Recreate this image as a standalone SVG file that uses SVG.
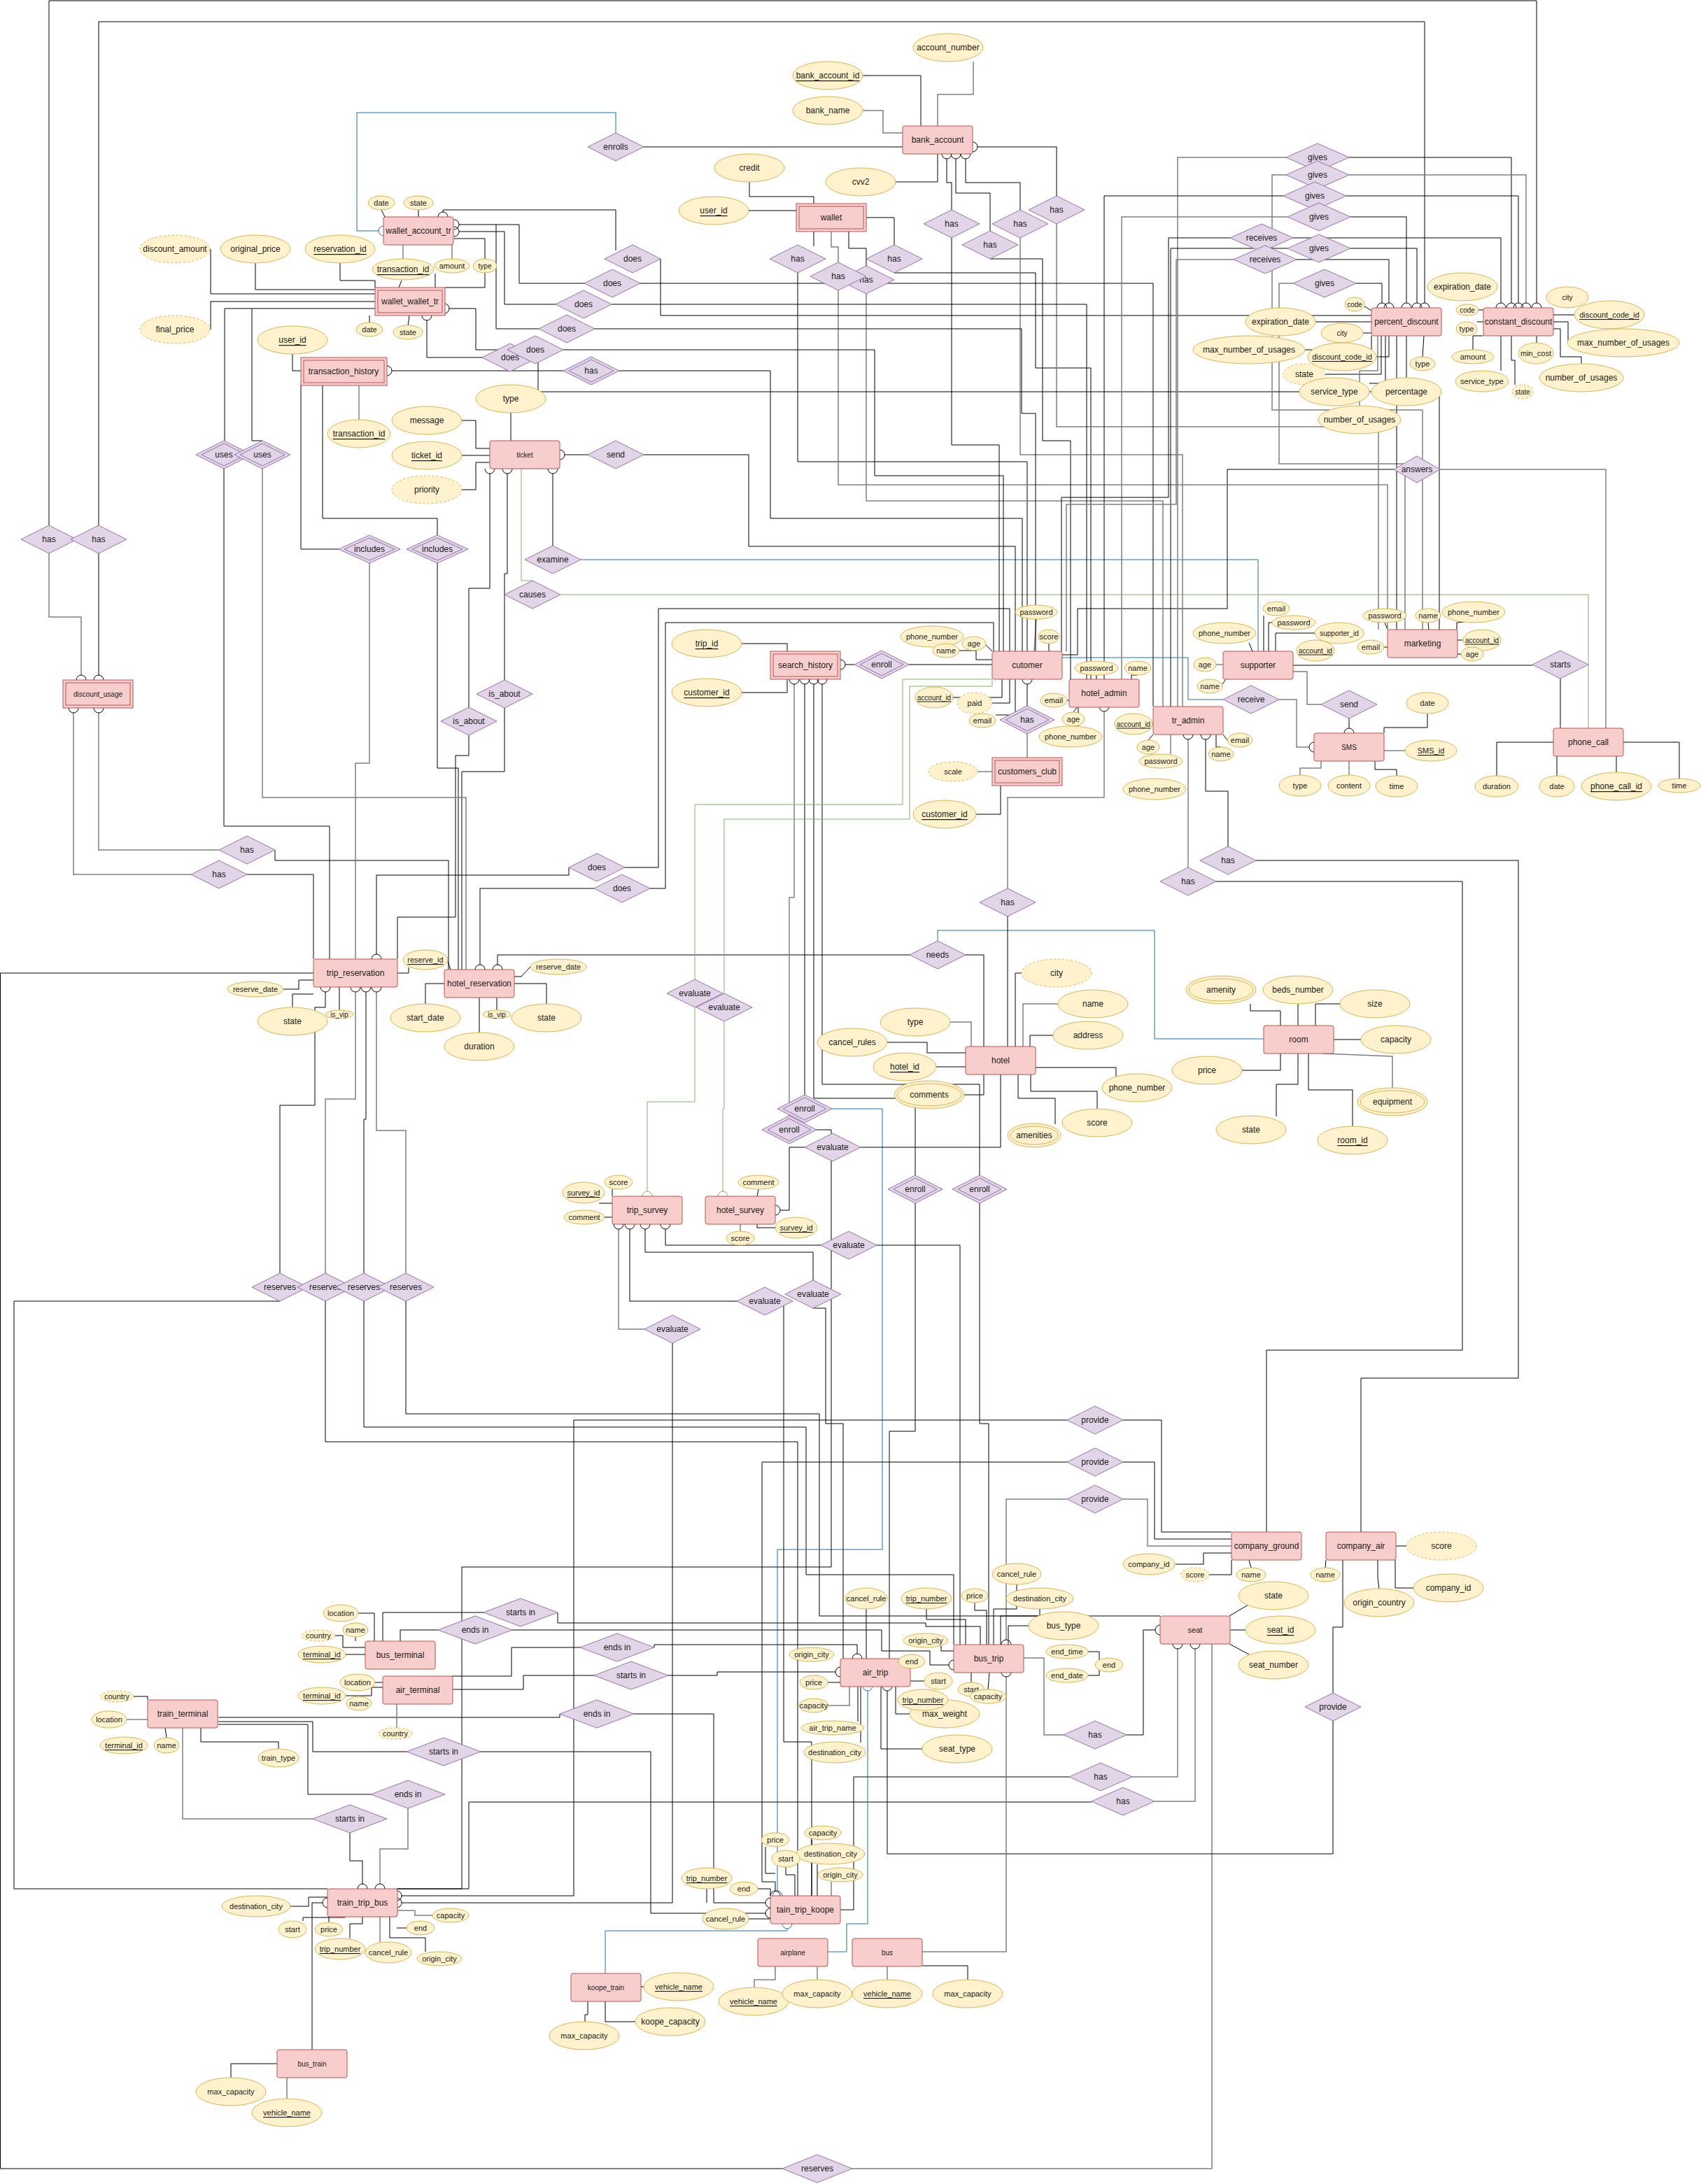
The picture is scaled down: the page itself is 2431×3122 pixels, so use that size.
<svg xmlns="http://www.w3.org/2000/svg" width="2431" height="3122" viewBox="0 0 2431 3122">
<style>
.e{fill:#f8cecc;stroke:#b85450;stroke-width:1}
.r{fill:#e1d5e7;stroke:#9673a6;stroke-width:1}
.a{fill:#fff2cc;stroke:#d6b656;stroke-width:1}
.ad{fill:#fff2cc;stroke:#d6b656;stroke-width:1;stroke-dasharray:3 3}
.ai{fill:none;stroke:#d6b656;stroke-width:1}
text{font-family:"Liberation Sans",Arial,sans-serif;font-size:12px;fill:#1a1a1a;text-anchor:middle;dominant-baseline:central}
.s{font-size:11px}
.t{font-size:10px}
.u{text-decoration:underline}
.du{text-decoration:underline dotted}
.c{fill:none;stroke:#000;stroke-width:1}
.g{fill:none;stroke:#808080;stroke-width:1.5}
.b{fill:none;stroke:#1f6fb0;stroke-width:1}
.gr{fill:none;stroke:#82b366;stroke-width:1}
.m{marker-end:url(#hc)}
.mb{marker-end:url(#hcb)}
.mg{marker-end:url(#hcg)}
</style>
<defs>
<marker id="hc" viewBox="-1 -9 10 18" markerWidth="10" markerHeight="18" refX="0" refY="0" orient="auto" markerUnits="userSpaceOnUse" overflow="visible"><path d="M7,-7 A7,7 0 0 0 7,7" fill="none" stroke="#000" stroke-width="1"/></marker>
<marker id="hcb" viewBox="-1 -9 10 18" markerWidth="10" markerHeight="18" refX="0" refY="0" orient="auto" markerUnits="userSpaceOnUse" overflow="visible"><path d="M7,-7 A7,7 0 0 0 7,7" fill="none" stroke="#1f6fb0" stroke-width="1"/></marker>
<marker id="hcg" viewBox="-1 -9 10 18" markerWidth="10" markerHeight="18" refX="0" refY="0" orient="auto" markerUnits="userSpaceOnUse" overflow="visible"><path d="M7,-7 A7,7 0 0 0 7,7" fill="none" stroke="#82b366" stroke-width="1"/></marker>
</defs>
<rect x="0" y="0" width="2431" height="3122" fill="#fff"/>
<g id="connectors">
<polyline class="c m" points="70,751 70,1 2196,1 2196,433"/>
<polyline class="c m" points="141,751 141,31 2036,31 2036,433"/>
<polyline class="g m" points="70,791 70,882 116,882 116,965"/>
<polyline class="c m" points="141,791 141,965"/>
<polyline class="g m" points="273,1250 105,1250 105,1019"/>
<polyline class="g m" points="313,1215 141,1215 141,1019"/>
<polyline class="c" points="393,1215 393,1230 641,1230 641,1386"/>
<polyline class="c" points="353,1250 448,1250 448,1371"/>
<polyline class="c" points="448,1391 0.5,1391 0.5,3100 1118,3100"/>
<polyline class="g" points="1218,3100 1732,3100 1732,2350"/>
<polyline class="c m" points="400,1820 400,1580 450,1580 450,1440 465,1440 465,1418"/>
<polyline class="c" points="400,1860 20,1860 20,2700 468,2700"/>
<polyline class="g m" points="465,1820 465,1571 508,1571 508,1418"/>
<polyline class="c" points="465,1860 465,2061 1140,2061 1140,2710"/>
<polyline class="c m" points="520,1820 520,1600 523,1600 523,1418"/>
<polyline class="c" points="520,1860 520,2040 1152,2040 1152,2251 1363,2251 1363,2351"/>
<polyline class="g m" points="580,1820 580,1616 538,1616 538,1418"/>
<polyline class="c" points="580,1860 580,2021 1171,2021 1171,2310 1658,2310"/>
<polyline class="c" points="545,300 550,310"/>
<polyline class="c" points="598,300 598,310"/>
<polyline class="b mb" points="880,190 880,161 510,161 510,330 541,330"/>
<polyline class="c" points="920,210 1290,210"/>
<polyline class="c m" points="880,358 880,300 633,300 633,303"/>
<polyline class="c m" points="835,405 742,405 742,321 656,321"/>
<polyline class="c" points="770,470 709,470 709,321"/>
<polyline class="c m" points="794,435 721,435 721,331 656,331"/>
<polyline class="c" points="649,341 693,341 693,370"/>
<polyline class="c" points="693,390 693,411 636,411"/>
<polyline class="g" points="646,350 646,370"/>
<polyline class="c" points="622,391 622,411"/>
<polyline class="g" points="576,350 576,370"/>
<polyline class="c" points="574,401 570,411"/>
<polyline class="c" points="301,356 301,420 536,420"/>
<polyline class="c" points="365,376 365,414 536,414"/>
<polyline class="c" points="486,376 486,401 536,401 536,411"/>
<polyline class="c" points="301,471 301,431 536,431"/>
<polyline class="c" points="536,441 321,441 321,630"/>
<polyline class="c" points="360,441 360,630 375,630"/>
<polyline class="c" points="528,461 528,451"/>
<polyline class="c" points="583,466 585,451"/>
<polyline class="c m" points="689,511 610,511 610,458"/>
<polyline class="c m" points="725,500 680,500 680,441 642,441"/>
<polyline class="c" points="418,506 418,530 430,530"/>
<polyline class="c m" points="805,530 560,530"/>
<polyline class="g" points="513,551 513,600"/>
<polyline class="c" points="461,551 461,741 625,741 625,765"/>
<polyline class="c" points="430,551 430,785 484,785"/>
<polyline class="c" points="730,590 730,630"/>
<polyline class="c" points="660,601 680,601 680,641 700,641"/>
<polyline class="c" points="660,651 700,651"/>
<polyline class="c" points="660,700 680,700 680,661 700,661"/>
<polyline class="c m" points="840,650 807,650"/>
<polyline class="c m" points="790,780 790,677"/>
<polyline class="gr" points="761,830 745,830 745,670"/>
<polyline class="c m" points="721,972 721,820 725,820 725,677"/>
<polyline class="c m" points="670,1011 670,841 700,841 700,677"/>
<polyline class="c" points="670,1051 670,1080 651,1080 651,1311 568,1311 568,1371"/>
<polyline class="c" points="721,1012 721,1103 660,1103 660,1386"/>
<polyline class="g" points="528,805 528,1091 508,1091 508,1371"/>
<polyline class="c" points="625,805 625,1098 655,1098 655,1386"/>
<polyline class="c" points="320,670 320,1181 471,1181 471,1371"/>
<polyline class="g" points="375,670 375,1140 666,1140 666,1386"/>
<polyline class="b" points="830,800 1798,800 1798,931"/>
<polyline class="gr" points="801,850 2270,850 2270,1041"/>
<polyline class="c m" points="813,1240 813,1251 538,1251 538,1364"/>
<polyline class="c" points="893,1240 941,1240 941,870 1443,870 1443,931"/>
<polyline class="c m" points="849,1270 686,1270 686,1379"/>
<polyline class="c" points="929,1270 951,1270 951,890 1420,890 1420,931"/>
<polyline class="c m" points="1300,1365 711,1365 711,1379"/>
<polyline class="c" points="1380,1365 1406,1365 1406,1496"/>
<polyline class="b" points="1340,1345 1340,1330 1650,1330 1650,1485 1806,1485"/>
<polyline class="c" points="584,1383 584,1391 567,1391"/>
<polyline class="c" points="640,1375 644,1386"/>
<polyline class="c" points="758,1382 745,1396 735,1396"/>
<polyline class="c" points="405,1414 427,1414 427,1401 448,1401"/>
<polyline class="c" points="418,1440 418,1421 448,1421"/>
<polyline class="c" points="485,1444 485,1411"/>
<polyline class="c" points="608,1435 608,1406 635,1406"/>
<polyline class="c" points="685,1476 685,1426"/>
<polyline class="c" points="710,1444 710,1426"/>
<polyline class="c" points="781,1435 781,1406 735,1406"/>
<polyline class="c" points="1060,920 1125,920 1125,931"/>
<polyline class="c" points="1060,990 1125,990 1125,971"/>
<polyline class="c m" points="1221,950 1208,950"/>
<polyline class="c" points="1299,950 1418,950"/>
<polyline class="g m" points="1128,1595 1128,1283 1135,1283 1135,978"/>
<polyline class="c m" points="1150,1565 1150,978"/>
<polyline class="c m" points="1308,1680 1308,1570 1163,1570 1163,978"/>
<polyline class="c m" points="1400,1680 1400,1550 1175,1550 1175,978"/>
<polyline class="c" points="1377,1565 1406,1565 1406,1536"/>
<polyline class="c" points="1308,1720 1308,2046 1271,2046 1271,2371"/>
<polyline class="c" points="1400,1720 1400,2035 1413,2035 1413,2351"/>
<polyline class="b mb" points="1189,1585 1261,1585 1261,2215 1111,2215 1111,2703"/>
<polyline class="c" points="1167,1615 1188,1615 1188,2240 660,2240 660,2700 567,2700"/>
<polyline class="c m" points="1150,1640 1128,1640 1128,1730 1115,1730"/>
<polyline class="c" points="1230,1640 1430,1640 1430,1536"/>
<polyline class="gr mg" points="993,1440 993,1575 925,1575 925,1703"/>
<polyline class="gr" points="993,1400 993,1150 1290,1150 1290,971 1418,971"/>
<polyline class="gr mg" points="1035,1460 1035,1585 1033,1585 1033,1703"/>
<polyline class="gr" points="1035,1420 1035,1171 1300,1171 1300,981 1418,981 1418,971"/>
<polyline class="c m" points="1173,1780 951,1780 951,1757"/>
<polyline class="c" points="1253,1780 1372,1780 1372,2351"/>
<polyline class="c m" points="1162,1830 1162,1790 922,1790 922,1757"/>
<polyline class="c" points="1162,1870 1180,1870 1180,2035 1205,2035 1205,2371"/>
<polyline class="c m" points="1053,1860 900,1860 900,1757"/>
<polyline class="c" points="1120,1867 1120,2490 1160,2490 1160,2710"/>
<polyline class="g m" points="921,1900 884,1900 884,1757"/>
<polyline class="c m" points="961,1920 961,2720 574,2720"/>
<polyline class="c" points="856,1720 875,1720"/>
<polyline class="c" points="864,1740 875,1740"/>
<polyline class="c" points="875,1700 875,1710"/>
<polyline class="c" points="1084,1700 1082,1710"/>
<polyline class="c" points="1109,1755 1082,1755 1082,1750"/>
<polyline class="g" points="1058,1760 1058,1750"/>
<polyline class="g" points="1481,885 1478,931"/>
<polyline class="c" points="1499,920 1499,931"/>
<polyline class="c" points="1371,930 1395,930 1395,943 1418,943"/>
<polyline class="c" points="1409,922 1418,931"/>
<polyline class="c" points="1362,997 1432,997 1432,971"/>
<polyline class="c" points="1418,1005 1443,1005 1443,971"/>
<polyline class="c" points="1423,1022 1451,1022 1451,971"/>
<polyline class="c m" points="1468,1011 1468,978"/>
<polyline class="g" points="1468,1047 1468,1083"/>
<polyline class="g" points="1397,1103 1418,1103"/>
<polyline class="c" points="1395,1164 1430,1164 1430,1123"/>
<polyline class="b" points="1518,940 1698,940 1698,1000 1748,1000"/>
<polyline class="c" points="1518,936 1540,936 1540,870 1754,870 1754,671 1992,671"/>
<polyline class="g" points="2058,671 2295,671 2295,1041"/>
<polyline class="g" points="1848,405 1828,405 1828,663 2008,663 2008,900"/>
<polyline class="g m" points="1828,1000 1853,1000 1853,1068 1871,1068"/>
<polyline class="c" points="1806,880 1806,931"/>
<polyline class="c" points="1818,890 1813,890 1813,931"/>
<polyline class="c" points="1879,905 1823,905 1823,931"/>
<polyline class="c" points="1785,919 1790,931"/>
<polyline class="g" points="1738,950 1748,950"/>
<polyline class="c" points="1747,978 1752,971"/>
<polyline class="c" points="1848,951 2190,951"/>
<polyline class="c" points="2230,970 2230,1041"/>
<polyline class="g" points="1848,960 1868,960 1868,1007 1888,1007"/>
<polyline class="c m" points="1928,1027 1928,1041"/>
<polyline class="c" points="2040,1020 2040,1040 1978,1040 1978,1048"/>
<polyline class="g" points="2008,1073 1978,1073"/>
<polyline class="g" points="1858,1108 1858,1098 1888,1098 1888,1088"/>
<polyline class="g" points="1928,1108 1928,1088"/>
<polyline class="c" points="1996,1109 1996,1100 1965,1100 1965,1088"/>
<polyline class="c" points="2139,1109 2139,1061 2220,1061"/>
<polyline class="c" points="2225,1109 2225,1080"/>
<polyline class="c" points="2310,1104 2310,1080"/>
<polyline class="c" points="2400,1113 2400,1061 2320,1061"/>
<polyline class="c" points="1979,890 1983,900"/>
<polyline class="c" points="2041,890 2042,900"/>
<polyline class="c" points="2093,889 2082,890 2082,900"/>
<polyline class="c" points="2091,915 2083,915"/>
<polyline class="c" points="2088,935 2083,935"/>
<polyline class="c" points="1978,925 1983,925"/>
<polyline class="c" points="1645,1035 1648,1035"/>
<polyline class="c" points="1641,1058 1648,1050"/>
<polyline class="g" points="1673,1078 1673,1050"/>
<polyline class="c" points="1754,1058 1748,1050"/>
<polyline class="c" points="1745,1068 1738,1068 1738,1050"/>
<polyline class="g m" points="1698,1240 1698,1057"/>
<polyline class="c m" points="1755,1210 1755,1131 1723,1131 1723,1057"/>
<polyline class="c" points="1795,1230 2170,1230 2170,1970 1945,1970 1945,2190"/>
<polyline class="c" points="1738,1260 2090,1260 2090,1930 1810,1930 1810,2190"/>
<polyline class="c" points="1567,965 1567,971"/>
<polyline class="c" points="1626,965 1617,965 1617,971"/>
<polyline class="c" points="1525,1001 1528,1001"/>
<polyline class="c" points="1534,1018 1540,1010"/>
<polyline class="c" points="1541,1038 1541,1010"/>
<polyline class="g m" points="1440,1270 1440,1140 1578,1140 1578,1017"/>
<polyline class="c" points="1440,1310 1440,1496"/>
<polyline class="c" points="1460,1391 1451,1391 1451,1496"/>
<polyline class="g" points="1512,1435 1462,1435 1462,1496"/>
<polyline class="c" points="1505,1480 1472,1480 1472,1496"/>
<polyline class="g" points="1357,1461 1388,1461 1388,1496"/>
<polyline class="c" points="1268,1490 1325,1490 1325,1505 1380,1505"/>
<polyline class="c" points="1338,1525 1380,1525"/>
<polyline class="c" points="1575,1555 1595,1555 1595,1526 1480,1526"/>
<polyline class="c" points="1568,1585 1568,1560 1473,1560 1473,1536"/>
<polyline class="c" points="1508,1607 1508,1570 1455,1570 1455,1536"/>
<polyline class="c" points="1787,1435 1787,1445 1830,1445 1830,1466"/>
<polyline class="c" points="1855,1435 1855,1466"/>
<polyline class="c" points="1915,1435 1880,1435 1880,1466"/>
<polyline class="c" points="1945,1486 1906,1486"/>
<polyline class="c" points="1775,1530 1830,1530 1830,1506"/>
<polyline class="c" points="1855,1506 1855,1550 1824,1550 1824,1596"/>
<polyline class="c" points="1870,1506 1870,1558 1933,1558 1933,1610"/>
<polyline class="g" points="1890,1506 1990,1510 1990,1555"/>
<polyline class="c" points="1071,260 1071,281 1163,281 1163,291"/>
<polyline class="c" points="1070,301 1138,301"/>
<polyline class="c" points="1163,331 1163,352"/>
<polyline class="g" points="1188,331 1188,353 1198,353 1198,375"/>
<polyline class="c" points="1213,331 1213,355 1238,355 1238,380"/>
<polyline class="c" points="1238,311 1278,311 1278,350"/>
<polyline class="c" points="1280,260 1340,260 1340,220"/>
<polyline class="c" points="1233,108 1316,108 1316,180"/>
<polyline class="g" points="1391,88 1391,135 1340,135 1340,180"/>
<polyline class="g" points="1233,158 1262,158 1262,190 1290,190"/>
<polyline class="c m" points="1360,300 1360,261 1353,261 1353,227"/>
<polyline class="c m" points="1415,330 1415,276 1366,276 1366,227"/>
<polyline class="c m" points="1458,300 1458,261 1380,261 1380,227"/>
<polyline class="c m" points="1510,280 1510,210 1397,210"/>
<polyline class="c" points="1140,390 1140,660 1468,660 1468,931"/>
<polyline class="g" points="1198,415 1198,693 1983,693 1983,900"/>
<polyline class="g" points="1238,420 1238,716 1662,716 1662,1010"/>
<polyline class="c" points="1278,390 1480,390 1480,526 1559,526 1559,971"/>
<polyline class="c" points="1360,340 1360,636 1428,636 1428,931"/>
<polyline class="c" points="1415,370 1490,370 1490,630 1530,630 1530,971"/>
<polyline class="g" points="1458,340 1458,650 1690,650 1690,1010"/>
<polyline class="g" points="1510,320 1510,610 1970,610 1970,900"/>
<polyline class="c" points="944,370 944,451 1996,451 1996,900"/>
<polyline class="c" points="915,405 1648,405 1648,1010"/>
<polyline class="c" points="874,435 1553,435 1553,971"/>
<polyline class="c" points="850,470 1460,470 1460,591 1480,591 1480,931"/>
<polyline class="c" points="805,500 1250,500 1250,680 1434,680 1434,931"/>
<polyline class="c" points="769,511 769,560 2057,560 2057,900"/>
<polyline class="c" points="885,530 1101,530 1101,741 1461,741 1461,931"/>
<polyline class="c" points="920,650 1070,650 1070,781 1451,781 1451,931"/>
<polyline class="g" points="1838,225 1683,225 1683,1010"/>
<polyline class="c m" points="1928,225 2160,225 2160,433"/>
<polyline class="g" points="1838,250 1818,250 1818,586 2033,586 2033,900"/>
<polyline class="g m" points="1928,250 2181,250 2181,433"/>
<polyline class="c" points="1834,280 1578,280 1578,971"/>
<polyline class="c m" points="1924,280 2170,280 2170,433"/>
<polyline class="g" points="1840,310 1603,310 1603,971"/>
<polyline class="c m" points="1930,310 2010,310 2010,433"/>
<polyline class="c" points="1758,340 1670,340 1670,711 1517,711 1517,931"/>
<polyline class="c m" points="1848,340 2145,340 2145,433"/>
<polyline class="c" points="1840,355 1673,355 1673,1010"/>
<polyline class="c m" points="1930,355 2025,355 2025,433"/>
<polyline class="g" points="1763,371 1681,371 1681,721 1524,721 1524,931"/>
<polyline class="c m" points="1853,371 1985,371 1985,433"/>
<polyline class="c m" points="1938,405 1975,405 1975,433"/>
<polyline class="c" points="1950,438 1960,444"/>
<polyline class="c" points="1880,460 1960,460"/>
<polyline class="c" points="1948,476 1960,476"/>
<polyline class="c" points="1865,500 1960,500 1960,480"/>
<polyline class="c" points="1967,510 1985,510 1985,480"/>
<polyline class="c" points="1894,535 1974,535 1974,480"/>
<polyline class="c" points="1957,548 1980,548 1980,480"/>
<polyline class="g" points="1943,580 1943,530 1969,530 1969,480"/>
<polyline class="c" points="2010,540 2010,480"/>
<polyline class="c" points="2033,510 2035,480"/>
<polyline class="c" points="2113,443 2120,443"/>
<polyline class="c" points="2111,460 2120,460"/>
<polyline class="c" points="2105,500 2105,480 2120,480"/>
<polyline class="c" points="2145,530 2145,480"/>
<polyline class="c" points="2165,550 2165,515 2160,515 2160,480"/>
<polyline class="c" points="2196,490 2196,480"/>
<polyline class="c" points="2250,450 2220,450"/>
<polyline class="c" points="2241,490 2241,460 2220,460"/>
<polyline class="c" points="2260,520 2260,510 2230,510 2230,470 2220,470"/>
<polyline class="c" points="1605,2030 1660,2030 1660,2190 1760,2190"/>
<polyline class="c m" points="1525,2030 820,2030 820,2710 574,2710"/>
<polyline class="c m" points="1525,2090 1089,2090 1089,2690 1108,2690 1108,2703"/>
<polyline class="c" points="1605,2090 1650,2090 1650,2200 1760,2200"/>
<polyline class="g m" points="1525,2143 1438,2143 1438,2344"/>
<polyline class="g" points="1605,2143 1640,2143 1640,2210 1760,2210"/>
<polyline class="c" points="1680,2236 1720,2236 1720,2220 1760,2220"/>
<polyline class="c" points="1728,2251 1760,2251 1760,2230"/>
<polyline class="c" points="1788,2241 1785,2230"/>
<polyline class="c" points="1894,2241 1895,2230"/>
<polyline class="c" points="2010,2210 1994,2210"/>
<polyline class="c" points="2020,2270 1994,2270 1994,2230"/>
<polyline class="c" points="1971,2271 1969,2255 1969,2230"/>
<polyline class="c" points="1919,2230 1919,2326 1905,2326 1905,2420"/>
<polyline class="c m" points="1905,2460 1905,2650 1268,2650 1268,2417"/>
<polyline class="c" points="1784,2294 1757,2310"/>
<polyline class="c" points="1780,2330 1757,2330"/>
<polyline class="c" points="1785,2365 1757,2350"/>
<polyline class="c m" points="1610,2480 1634,2480 1634,2330 1651,2330"/>
<polyline class="g m" points="1618,2540 1683,2540 1683,2357"/>
<polyline class="g m" points="1650,2575 1708,2575 1708,2357"/>
<polyline class="g" points="1520,2480 1492,2480 1492,2370 1463,2370"/>
<polyline class="c" points="1528,2540 1220,2540 1220,2730 1201,2730"/>
<polyline class="c" points="1560,2576 670,2576 670,2700 567,2700"/>
<polyline class="c" points="1355,2345 1345,2345 1345,2360 1363,2360"/>
<polyline class="c" points="1470,2324 1441,2324 1441,2351"/>
<polyline class="c" points="1555,2361 1571,2361 1571,2395 1555,2395"/>
<polyline class="c" points="1571,2380 1566,2380"/>
<polyline class="c" points="1388,2405 1388,2390"/>
<polyline class="c" points="1412,2415 1414,2390"/>
<polyline class="g m" points="1318,2790 1438,2790 1438,2397"/>
<polyline class="c" points="1324,2300 1324,2315 1380,2315 1380,2351"/>
<polyline class="c" points="1393,2291 1393,2302 1410,2302 1410,2351"/>
<polyline class="c" points="1453,2265 1453,2300 1420,2300 1420,2351"/>
<polyline class="c" points="1486,2300 1486,2310 1430,2310 1430,2351"/>
<polyline class="c" points="1238,2300 1238,2371"/>
<polyline class="c m" points="935,2355 935,2351 1225,2351 1225,2364"/>
<polyline class="c" points="829,2355 731,2355 731,2396 646,2396"/>
<polyline class="c m" points="955,2395 1025,2395 1025,2390 1194,2390"/>
<polyline class="c" points="849,2395 748,2395 748,2415 646,2415"/>
<polyline class="c m" points="906,2450 1020,2450 1020,2720 1094,2720"/>
<polyline class="c" points="800,2450 800,2455 312,2455"/>
<polyline class="c" points="1183,2405 1201,2405"/>
<polyline class="g" points="1184,2438 1214,2438 1214,2410"/>
<polyline class="c" points="1226,2461 1226,2410"/>
<polyline class="c" points="1230,2491 1230,2410"/>
<polyline class="c" points="1318,2500 1259,2500 1259,2410"/>
<polyline class="c" points="1301,2450 1280,2450 1280,2410"/>
<polyline class="c" points="1321,2403 1300,2403"/>
<polyline class="c" points="508,2340 508,2346"/>
<polyline class="c" points="479,2338 490,2338 490,2355 522,2355"/>
<polyline class="c" points="494,2365 522,2365"/>
<polyline class="c" points="511,2306 535,2306 535,2346"/>
<polyline class="c" points="547,2346 547,2305 691,2305"/>
<polyline class="c" points="797,2305 797,2320 1323,2320 1323,2325 1401,2325 1401,2351"/>
<polyline class="c" points="572,2346 572,2330 626,2330"/>
<polyline class="c m" points="732,2330 1260,2330 1260,2360 1329,2360 1329,2380 1356,2380"/>
<polyline class="c" points="535,2405 547,2405"/>
<polyline class="c" points="494,2424 531,2424 531,2412 547,2412"/>
<polyline class="g" points="567,2470 567,2436"/>
<polyline class="g" points="180,2458 211,2458"/>
<polyline class="c" points="191,2425 211,2425 211,2430"/>
<polyline class="c" points="238,2484 236,2470"/>
<polyline class="c" points="398,2500 398,2490 287,2490 287,2470"/>
<polyline class="c" points="312,2461 447,2461 447,2504 581,2504"/>
<polyline class="c" points="312,2465 440,2465 440,2565 530,2565"/>
<polyline class="g" points="261,2470 261,2600 447,2600"/>
<polyline class="c m" points="687,2504 930,2504 930,2735 1094,2735"/>
<polyline class="g m" points="583,2585 583,2643 543,2643 543,2693"/>
<polyline class="c m" points="500,2620 500,2660 518,2660 518,2693"/>
<polyline class="c" points="415,2725 441,2725 441,2712 468,2712"/>
<polyline class="c" points="433,2746 433,2741 493,2741 493,2740"/>
<polyline class="c" points="470,2748 470,2740"/>
<polyline class="c" points="500,2771 500,2750 518,2750 518,2740"/>
<polyline class="g" points="543,2776 543,2740"/>
<polyline class="c" points="608,2790 608,2770 557,2770 557,2740"/>
<polyline class="c" points="581,2756 567,2756"/>
<polyline class="g" points="618,2738 593,2738 593,2731 567,2731"/>
<polyline class="c m" points="446,2930 446,2720 461,2720"/>
<polyline class="c" points="330,2971 330,2950 396,2950"/>
<polyline class="g" points="410,3000 410,2970"/>
<polyline class="c" points="1094,2640 1094,2678 1108,2678"/>
<polyline class="c" points="1123,2669 1123,2680 1136,2680 1136,2710"/>
<polyline class="c" points="1160,2630 1160,2710"/>
<polyline class="c" points="1168,2665 1168,2710"/>
<polyline class="g" points="1188,2690 1188,2710"/>
<polyline class="c" points="1010,2700 1010,2720"/>
<polyline class="c" points="1083,2700 1101,2700 1101,2710"/>
<polyline class="c" points="1070,2743 1101,2743"/>
<polyline class="b mb" points="865,2821 865,2760 1125,2760 1125,2757"/>
<polyline class="b mb" points="1182,2790 1210,2790 1210,2750 1240,2750 1240,2417"/>
<polyline class="g" points="1108,2810 1108,2830 1078,2830 1078,2841"/>
<polyline class="g" points="1168,2810 1168,2830"/>
<polyline class="g" points="1268,2810 1268,2830"/>
<polyline class="c" points="1318,2810 1383,2810 1383,2830"/>
<polyline class="c" points="921,2840 916,2840"/>
<polyline class="c" points="909,2890 865,2890 865,2860"/>
<polyline class="c" points="836,2890 836,2880 840,2880 840,2860"/>
</g>
<g id="relationships">
<g id="r-enrolls"><polygon class="r" points="840,210 880,190 920,210 880,230"/><text x="880" y="210">enrolls</text></g>
<g id="r-does1"><polygon class="r" points="864,370 904,350 944,370 904,390"/><text x="904" y="370">does</text></g>
<g id="r-does2"><polygon class="r" points="835,405 875,385 915,405 875,425"/><text x="875" y="405">does</text></g>
<g id="r-does3"><polygon class="r" points="794,435 834,415 874,435 834,455"/><text x="834" y="435">does</text></g>
<g id="r-does4"><polygon class="r" points="770,470 810,450 850,470 810,490"/><text x="810" y="470">does</text></g>
<g id="r-does6"><polygon class="r" points="689,511 729,491 769,511 729,531"/><text x="729" y="511">does</text></g>
<g id="r-does5"><polygon class="r" points="725,500 765,480 805,500 765,520"/><text x="765" y="500">does</text></g>
<g id="r-has-th"><polygon class="r" points="805,530 845,510 885,530 845,550"/><polygon class="r" points="813,530 845,514 877,530 845,546"/><text x="845" y="530">has</text></g>
<g id="r-send1"><polygon class="r" points="840,650 880,630 920,650 880,670"/><text x="880" y="650">send</text></g>
<g id="r-uses1"><polygon class="r" points="280,650 320,630 360,650 320,670"/><polygon class="r" points="288,650 320,634 352,650 320,666"/><text x="320" y="650">uses</text></g>
<g id="r-uses2"><polygon class="r" points="335,650 375,630 415,650 375,670"/><polygon class="r" points="343,650 375,634 407,650 375,666"/><text x="375" y="650">uses</text></g>
<g id="r-has-du1"><polygon class="r" points="30,771 70,751 110,771 70,791"/><text x="70" y="771">has</text></g>
<g id="r-has-du2"><polygon class="r" points="101,771 141,751 181,771 141,791"/><text x="141" y="771">has</text></g>
<g id="r-includes1"><polygon class="r" points="484,785 528,765 572,785 528,805"/><polygon class="r" points="492,785 528,769 564,785 528,801"/><text x="528" y="785">includes</text></g>
<g id="r-includes2"><polygon class="r" points="581,785 625,765 669,785 625,805"/><polygon class="r" points="589,785 625,769 661,785 625,801"/><text x="625" y="785">includes</text></g>
<g id="r-examine"><polygon class="r" points="750,800 790,780 830,800 790,820"/><text x="790" y="800">examine</text></g>
<g id="r-causes"><polygon class="r" points="721,850 761,830 801,850 761,870"/><text x="761" y="850">causes</text></g>
<g id="r-isabout1"><polygon class="r" points="681,992 721,972 761,992 721,1012"/><text x="721" y="992">is_about</text></g>
<g id="r-isabout2"><polygon class="r" points="630,1031 670,1011 710,1031 670,1051"/><text x="670" y="1031">is_about</text></g>
<g id="r-has-du3"><polygon class="r" points="313,1215 353,1195 393,1215 353,1235"/><text x="353" y="1215">has</text></g>
<g id="r-has-du4"><polygon class="r" points="273,1250 313,1230 353,1250 313,1270"/><text x="313" y="1250">has</text></g>
<g id="r-does7"><polygon class="r" points="813,1240 853,1220 893,1240 853,1260"/><text x="853" y="1240">does</text></g>
<g id="r-does8"><polygon class="r" points="849,1270 889,1250 929,1270 889,1290"/><text x="889" y="1270">does</text></g>
<g id="r-has-w1"><polygon class="r" points="1100,370 1140,350 1180,370 1140,390"/><text x="1140" y="370">has</text></g>
<g id="r-has-w3"><polygon class="r" points="1198,400 1238,380 1278,400 1238,420"/><text x="1238" y="400">has</text></g>
<g id="r-has-w2"><polygon class="r" points="1158,395 1198,375 1238,395 1198,415"/><text x="1198" y="395">has</text></g>
<g id="r-has-w4"><polygon class="r" points="1238,370 1278,350 1318,370 1278,390"/><text x="1278" y="370">has</text></g>
<g id="r-has-b1"><polygon class="r" points="1320,320 1360,300 1400,320 1360,340"/><text x="1360" y="320">has</text></g>
<g id="r-has-b2"><polygon class="r" points="1418,320 1458,300 1498,320 1458,340"/><text x="1458" y="320">has</text></g>
<g id="r-has-b3"><polygon class="r" points="1375,350 1415,330 1455,350 1415,370"/><text x="1415" y="350">has</text></g>
<g id="r-has-b4"><polygon class="r" points="1470,300 1510,280 1550,300 1510,320"/><text x="1510" y="300">has</text></g>
<g id="r-gives1"><polygon class="r" points="1838,225 1883,205 1928,225 1883,245"/><text x="1883" y="225">gives</text></g>
<g id="r-gives2"><polygon class="r" points="1838,250 1883,230 1928,250 1883,270"/><text x="1883" y="250">gives</text></g>
<g id="r-gives3"><polygon class="r" points="1834,280 1879,260 1924,280 1879,300"/><text x="1879" y="280">gives</text></g>
<g id="r-gives4"><polygon class="r" points="1840,310 1885,290 1930,310 1885,330"/><text x="1885" y="310">gives</text></g>
<g id="r-receives1"><polygon class="r" points="1758,340 1803,320 1848,340 1803,360"/><text x="1803" y="340">receives</text></g>
<g id="r-gives5"><polygon class="r" points="1840,355 1885,335 1930,355 1885,375"/><text x="1885" y="355">gives</text></g>
<g id="r-receives2"><polygon class="r" points="1763,371 1808,351 1853,371 1808,391"/><text x="1808" y="371">receives</text></g>
<g id="r-gives6"><polygon class="r" points="1848,405 1893,385 1938,405 1893,425"/><text x="1893" y="405">gives</text></g>
<g id="r-answers"><polygon class="r" points="1992,671 2025,652 2058,671 2025,690"/><text x="2025" y="671">answers</text></g>
<g id="r-enroll-sh"><polygon class="r" points="1221,950 1260,930 1299,950 1260,970"/><polygon class="r" points="1229,950 1260,934 1291,950 1260,966"/><text x="1260" y="950">enroll</text></g>
<g id="r-has-cc"><polygon class="r" points="1429,1029 1468,1009 1507,1029 1468,1049"/><polygon class="r" points="1437,1029 1468,1013 1499,1029 1468,1045"/><text x="1468" y="1029">has</text></g>
<g id="r-starts"><polygon class="r" points="2190,950 2230,930 2270,950 2230,970"/><text x="2230" y="950">starts</text></g>
<g id="r-receive"><polygon class="r" points="1748,1000 1788,980 1828,1000 1788,1020"/><text x="1788" y="1000">receive</text></g>
<g id="r-send2"><polygon class="r" points="1888,1007 1928,987 1968,1007 1928,1027"/><text x="1928" y="1007">send</text></g>
<g id="r-has-ta1"><polygon class="r" points="1715,1230 1755,1210 1795,1230 1755,1250"/><text x="1755" y="1230">has</text></g>
<g id="r-has-ta2"><polygon class="r" points="1658,1260 1698,1240 1738,1260 1698,1280"/><text x="1698" y="1260">has</text></g>
<g id="r-has-ha"><polygon class="r" points="1400,1290 1440,1270 1480,1290 1440,1310"/><text x="1440" y="1290">has</text></g>
<g id="r-needs"><polygon class="r" points="1300,1365 1340,1345 1380,1365 1340,1385"/><text x="1340" y="1365">needs</text></g>
<g id="r-evaluate1"><polygon class="r" points="953,1420 993,1400 1033,1420 993,1440"/><text x="993" y="1420">evaluate</text></g>
<g id="r-evaluate2"><polygon class="r" points="995,1440 1035,1420 1075,1440 1035,1460"/><text x="1035" y="1440">evaluate</text></g>
<g id="r-enroll1"><polygon class="r" points="1111,1585 1150,1565 1189,1585 1150,1605"/><polygon class="r" points="1119,1585 1150,1569 1181,1585 1150,1601"/><text x="1150" y="1585">enroll</text></g>
<g id="r-enroll2"><polygon class="r" points="1089,1615 1128,1595 1167,1615 1128,1635"/><polygon class="r" points="1097,1615 1128,1599 1159,1615 1128,1631"/><text x="1128" y="1615">enroll</text></g>
<g id="r-evaluate3"><polygon class="r" points="1150,1640 1190,1620 1230,1640 1190,1660"/><text x="1190" y="1640">evaluate</text></g>
<g id="r-enroll3"><polygon class="r" points="1269,1700 1308,1680 1347,1700 1308,1720"/><polygon class="r" points="1277,1700 1308,1684 1339,1700 1308,1716"/><text x="1308" y="1700">enroll</text></g>
<g id="r-enroll4"><polygon class="r" points="1361,1700 1400,1680 1439,1700 1400,1720"/><polygon class="r" points="1369,1700 1400,1684 1431,1700 1400,1716"/><text x="1400" y="1700">enroll</text></g>
<g id="r-evaluate4"><polygon class="r" points="1173,1780 1213,1760 1253,1780 1213,1800"/><text x="1213" y="1780">evaluate</text></g>
<g id="r-evaluate5"><polygon class="r" points="1122,1850 1162,1830 1202,1850 1162,1870"/><text x="1162" y="1850">evaluate</text></g>
<g id="r-evaluate6"><polygon class="r" points="1053,1860 1093,1840 1133,1860 1093,1880"/><text x="1093" y="1860">evaluate</text></g>
<g id="r-evaluate7"><polygon class="r" points="921,1900 961,1880 1001,1900 961,1920"/><text x="961" y="1900">evaluate</text></g>
<g id="r-reserves1"><polygon class="r" points="360,1840 400,1820 440,1840 400,1860"/><text x="400" y="1840">reserves</text></g>
<g id="r-reserves2"><polygon class="r" points="425,1840 465,1820 505,1840 465,1860"/><text x="465" y="1840">reserves</text></g>
<g id="r-reserves3"><polygon class="r" points="480,1840 520,1820 560,1840 520,1860"/><text x="520" y="1840">reserves</text></g>
<g id="r-reserves4"><polygon class="r" points="540,1840 580,1820 620,1840 580,1860"/><text x="580" y="1840">reserves</text></g>
<g id="r-provide1"><polygon class="r" points="1525,2030 1565,2010 1605,2030 1565,2050"/><text x="1565" y="2030">provide</text></g>
<g id="r-provide2"><polygon class="r" points="1525,2090 1565,2070 1605,2090 1565,2110"/><text x="1565" y="2090">provide</text></g>
<g id="r-provide3"><polygon class="r" points="1525,2143 1565,2123 1605,2143 1565,2163"/><text x="1565" y="2143">provide</text></g>
<g id="r-provide4"><polygon class="r" points="1865,2440 1905,2420 1945,2440 1905,2460"/><text x="1905" y="2440">provide</text></g>
<g id="r-startsin1"><polygon class="r" points="691,2305 744,2285 797,2305 744,2325"/><text x="744" y="2305">starts in</text></g>
<g id="r-endsin1"><polygon class="r" points="626,2330 679,2310 732,2330 679,2350"/><text x="679" y="2330">ends in</text></g>
<g id="r-endsin2"><polygon class="r" points="829,2355 882,2335 935,2355 882,2375"/><text x="882" y="2355">ends in</text></g>
<g id="r-startsin2"><polygon class="r" points="849,2395 902,2375 955,2395 902,2415"/><text x="902" y="2395">starts in</text></g>
<g id="r-endsin3"><polygon class="r" points="800,2450 853,2430 906,2450 853,2470"/><text x="853" y="2450">ends in</text></g>
<g id="r-startsin3"><polygon class="r" points="581,2504 634,2484 687,2504 634,2524"/><text x="634" y="2504">starts in</text></g>
<g id="r-endsin4"><polygon class="r" points="530,2565 583,2545 636,2565 583,2585"/><text x="583" y="2565">ends in</text></g>
<g id="r-startsin4"><polygon class="r" points="447,2600 500,2580 553,2600 500,2620"/><text x="500" y="2600">starts in</text></g>
<g id="r-has-s1"><polygon class="r" points="1520,2480 1565,2460 1610,2480 1565,2500"/><text x="1565" y="2480">has</text></g>
<g id="r-has-s2"><polygon class="r" points="1528,2540 1573,2520 1618,2540 1573,2560"/><text x="1573" y="2540">has</text></g>
<g id="r-has-s3"><polygon class="r" points="1560,2575 1605,2555 1650,2575 1605,2595"/><text x="1605" y="2575">has</text></g>
<g id="r-reserves5"><polygon class="r" points="1118,3100 1168,3080 1218,3100 1168,3120"/><text x="1168" y="3100">reserves</text></g>
</g>
<g id="entities">
<g id="e-wallet_account_tr"><rect class="e" x="548" y="310" width="100" height="40" rx="3"/><text x="598" y="330">wallet_account_tr</text></g>
<g id="e-wallet_wallet_tr"><rect class="e" x="536" y="411" width="100" height="40"/><rect class="e" x="540" y="415" width="92" height="32"/><text x="586" y="431">wallet_wallet_tr</text></g>
<g id="e-transaction_history"><rect class="e" x="430" y="511" width="123" height="40"/><rect class="e" x="434" y="515" width="115" height="32"/><text x="491" y="531">transaction_history</text></g>
<g id="e-ticket"><rect class="e" x="700" y="630" width="100" height="40" rx="3"/><text class="t" x="750" y="650">ticket</text></g>
<g id="e-bank_account"><rect class="e" x="1290" y="180" width="100" height="40" rx="3"/><text x="1340" y="200">bank_account</text></g>
<g id="e-wallet"><rect class="e" x="1138" y="291" width="100" height="40"/><rect class="e" x="1142" y="295" width="92" height="32"/><text x="1188" y="311">wallet</text></g>
<g id="e-percent_discount"><rect class="e" x="1960" y="440" width="100" height="40" rx="3"/><text x="2010" y="460">percent_discount</text></g>
<g id="e-constant_discount"><rect class="e" x="2120" y="440" width="100" height="40" rx="3"/><text x="2170" y="460">constant_discount</text></g>
<g id="e-discount_usage"><rect class="e" x="90" y="972" width="100" height="40"/><rect class="e" x="94" y="976" width="92" height="32"/><text class="t" x="140" y="992">discount_usage</text></g>
<g id="e-search_history"><rect class="e" x="1101" y="931" width="100" height="40"/><rect class="e" x="1105" y="935" width="92" height="32"/><text x="1151" y="951">search_history</text></g>
<g id="e-cutomer"><rect class="e" x="1418" y="931" width="100" height="40" rx="3"/><text x="1468" y="951">cutomer</text></g>
<g id="e-hotel_admin"><rect class="e" x="1528" y="971" width="100" height="40" rx="3"/><text x="1578" y="991">hotel_admin</text></g>
<g id="e-customers_club"><rect class="e" x="1418" y="1083" width="100" height="40"/><rect class="e" x="1422" y="1087" width="92" height="32"/><text x="1468" y="1103">customers_club</text></g>
<g id="e-supporter"><rect class="e" x="1748" y="931" width="100" height="40" rx="3"/><text x="1798" y="951">supporter</text></g>
<g id="e-marketing"><rect class="e" x="1983" y="900" width="100" height="40" rx="3"/><text x="2033" y="920">marketing</text></g>
<g id="e-tr_admin"><rect class="e" x="1648" y="1010" width="100" height="40" rx="3"/><text x="1698" y="1030">tr_admin</text></g>
<g id="e-SMS"><rect class="e" x="1878" y="1048" width="100" height="40" rx="3"/><text class="t" x="1928" y="1068">SMS</text></g>
<g id="e-phone_call"><rect class="e" x="2220" y="1041" width="100" height="40" rx="3"/><text x="2270" y="1061">phone_call</text></g>
<g id="e-trip_reservation"><rect class="e" x="448" y="1371" width="120" height="40" rx="3"/><text x="508" y="1391">trip_reservation</text></g>
<g id="e-hotel_reservation"><rect class="e" x="635" y="1386" width="100" height="40" rx="3"/><text x="685" y="1406">hotel_reservation</text></g>
<g id="e-hotel"><rect class="e" x="1380" y="1496" width="100" height="40" rx="3"/><text x="1430" y="1516">hotel</text></g>
<g id="e-room"><rect class="e" x="1806" y="1466" width="100" height="40" rx="3"/><text x="1856" y="1486">room</text></g>
<g id="e-trip_survey"><rect class="e" x="875" y="1710" width="100" height="40" rx="3"/><text x="925" y="1730">trip_survey</text></g>
<g id="e-hotel_survey"><rect class="e" x="1008" y="1710" width="100" height="40" rx="3"/><text x="1058" y="1730">hotel_survey</text></g>
<g id="e-company_ground"><rect class="e" x="1760" y="2190" width="100" height="40" rx="3"/><text x="1810" y="2210">company_ground</text></g>
<g id="e-company_air"><rect class="e" x="1895" y="2190" width="100" height="40" rx="3"/><text x="1945" y="2210">company_air</text></g>
<g id="e-seat"><rect class="e" x="1658" y="2310" width="100" height="40" rx="3"/><text class="s" x="1708" y="2330">seat</text></g>
<g id="e-bus_terminal"><rect class="e" x="522" y="2346" width="100" height="40" rx="3"/><text x="572" y="2366">bus_terminal</text></g>
<g id="e-air_terminal"><rect class="e" x="547" y="2396" width="100" height="40" rx="3"/><text x="597" y="2416">air_terminal</text></g>
<g id="e-train_terminal"><rect class="e" x="211" y="2430" width="100" height="40" rx="3"/><text x="261" y="2450">train_terminal</text></g>
<g id="e-air_trip"><rect class="e" x="1201" y="2371" width="100" height="40" rx="3"/><text x="1251" y="2391">air_trip</text></g>
<g id="e-bus_trip"><rect class="e" x="1363" y="2351" width="100" height="40" rx="3"/><text x="1413" y="2371">bus_trip</text></g>
<g id="e-train_trip_bus"><rect class="e" x="468" y="2700" width="100" height="40" rx="3"/><text x="518" y="2720">train_trip_bus</text></g>
<g id="e-tain_trip_koope"><rect class="e" x="1101" y="2710" width="100" height="40" rx="3"/><text x="1151" y="2730">tain_trip_koope</text></g>
<g id="e-airplane"><rect class="e" x="1083" y="2771" width="100" height="40" rx="3"/><text class="t" x="1133" y="2791">airplane</text></g>
<g id="e-bus"><rect class="e" x="1218" y="2771" width="100" height="40" rx="3"/><text class="t" x="1268" y="2791">bus</text></g>
<g id="e-koope_train"><rect class="e" x="816" y="2821" width="100" height="40" rx="3"/><text class="t" x="866" y="2841">koope_train</text></g>
<g id="e-bus_train"><rect class="e" x="396" y="2930" width="100" height="40" rx="3"/><text class="t" x="446" y="2950">bus_train</text></g>
</g>
<g id="attributes">
<g id="a1"><ellipse class="a" cx="545" cy="290" rx="19" ry="10"/><text class="s" x="545" y="290">date</text></g>
<g id="a2"><ellipse class="a" cx="598" cy="290" rx="21" ry="10"/><text class="s" x="598" y="290">state</text></g>
<g id="a3"><ellipse class="ad" cx="250" cy="356" rx="50" ry="20"/><text x="250" y="356">discount_amount</text></g>
<g id="a4"><ellipse class="a" cx="365" cy="356" rx="50" ry="20"/><text x="365" y="356">original_price</text></g>
<g id="a5"><ellipse class="a" cx="486" cy="356" rx="50" ry="20"/><text class="du" x="486" y="356">reservation_id</text></g>
<g id="a6"><ellipse class="a" cx="576" cy="385" rx="44" ry="15"/><text class="u" x="576" y="385">transaction_id</text></g>
<g id="a7"><ellipse class="a" cx="646" cy="380" rx="25" ry="10"/><text class="s" x="646" y="380">amount</text></g>
<g id="a8"><ellipse class="a" cx="693" cy="380" rx="17" ry="10"/><text class="t" x="693" y="380">type</text></g>
<g id="a9"><ellipse class="ad" cx="250" cy="471" rx="50" ry="20"/><text x="250" y="471">final_price</text></g>
<g id="a10"><ellipse class="a" cx="528" cy="471" rx="19" ry="10"/><text class="s" x="528" y="471">date</text></g>
<g id="a11"><ellipse class="a" cx="583" cy="475" rx="21" ry="10"/><text class="s" x="583" y="475">state</text></g>
<g id="a12"><ellipse class="a" cx="418" cy="486" rx="50" ry="20"/><text class="du" x="418" y="486">user_id</text></g>
<g id="a13"><ellipse class="a" cx="513" cy="620" rx="45" ry="20"/><text class="du" x="513" y="620">transaction_id</text></g>
<g id="a14"><ellipse class="a" cx="730" cy="570" rx="50" ry="20"/><text x="730" y="570">type</text></g>
<g id="a15"><ellipse class="a" cx="610" cy="601" rx="50" ry="20"/><text x="610" y="601">message</text></g>
<g id="a16"><ellipse class="a" cx="610" cy="651" rx="50" ry="20"/><text class="u" x="610" y="651">ticket_id</text></g>
<g id="a17"><ellipse class="ad" cx="610" cy="700" rx="50" ry="20"/><text x="610" y="700">priority</text></g>
<g id="a18"><ellipse class="a" cx="1355" cy="68" rx="50" ry="20"/><text x="1355" y="68">account_number</text></g>
<g id="a19"><ellipse class="a" cx="1183" cy="108" rx="50" ry="20"/><text class="u" x="1183" y="108">bank_account_id</text></g>
<g id="a20"><ellipse class="a" cx="1183" cy="158" rx="50" ry="20"/><text x="1183" y="158">bank_name</text></g>
<g id="a21"><ellipse class="a" cx="1071" cy="240" rx="50" ry="20"/><text x="1071" y="240">credit</text></g>
<g id="a22"><ellipse class="a" cx="1230" cy="260" rx="50" ry="20"/><text x="1230" y="260">cvv2</text></g>
<g id="a23"><ellipse class="a" cx="1020" cy="301" rx="50" ry="20"/><text class="du" x="1020" y="301">user_id</text></g>
<g id="a24"><ellipse class="a" cx="1936" cy="435" rx="14" ry="10"/><text class="t" x="1936" y="435">code</text></g>
<g id="a25"><ellipse class="a" cx="1830" cy="460" rx="50" ry="20"/><text x="1830" y="460">expiration_date</text></g>
<g id="a26"><ellipse class="a" cx="1918" cy="476" rx="30" ry="14"/><text class="t" x="1918" y="476">city</text></g>
<g id="a27"><ellipse class="a" cx="1785" cy="500" rx="80" ry="20"/><text x="1785" y="500">max_number_of_usages</text></g>
<g id="a28"><ellipse class="a" cx="1918" cy="510" rx="49" ry="20"/><text class="u s" x="1918" y="510">discount_code_id</text></g>
<g id="a29"><ellipse class="ad" cx="1864" cy="535" rx="30" ry="15"/><text x="1864" y="535">state</text></g>
<g id="a30"><ellipse class="a" cx="1907" cy="560" rx="50" ry="20"/><text x="1907" y="560">service_type</text></g>
<g id="a31"><ellipse class="a" cx="2010" cy="560" rx="50" ry="20"/><text x="2010" y="560">percentage</text></g>
<g id="a32"><ellipse class="a" cx="1943" cy="600" rx="59" ry="20"/><text x="1943" y="600">number_of_usages</text></g>
<g id="a33"><ellipse class="a" cx="2033" cy="520" rx="18" ry="10"/><text class="s" x="2033" y="520">type</text></g>
<g id="a34"><ellipse class="a" cx="2090" cy="410" rx="50" ry="20"/><text x="2090" y="410">expiration_date</text></g>
<g id="a35"><ellipse class="a" cx="2097" cy="443" rx="16" ry="8"/><text class="t" x="2097" y="443">code</text></g>
<g id="a36"><ellipse class="a" cx="2096" cy="470" rx="15" ry="10"/><text class="s" x="2096" y="470">type</text></g>
<g id="a37"><ellipse class="a" cx="2105" cy="510" rx="30" ry="10"/><text class="s" x="2105" y="510">amount</text></g>
<g id="a38"><ellipse class="a" cx="2118" cy="545" rx="38" ry="15"/><text class="s" x="2118" y="545">service_type</text></g>
<g id="a39"><ellipse class="ad" cx="2176" cy="560" rx="15" ry="10"/><text class="t" x="2176" y="560">state</text></g>
<g id="a40"><ellipse class="a" cx="2195" cy="505" rx="25" ry="15"/><text class="s" x="2195" y="505">min_cost</text></g>
<g id="a41"><ellipse class="a" cx="2240" cy="425" rx="30" ry="15"/><text class="t" x="2240" y="425">city</text></g>
<g id="a42"><ellipse class="a" cx="2300" cy="450" rx="50" ry="20"/><text class="u s" x="2300" y="450">discount_code_id</text></g>
<g id="a43"><ellipse class="a" cx="2320" cy="490" rx="80" ry="20"/><text x="2320" y="490">max_number_of_usages</text></g>
<g id="a44"><ellipse class="a" cx="2260" cy="540" rx="60" ry="20"/><text x="2260" y="540">number_of_usages</text></g>
<g id="a45"><ellipse class="a" cx="1010" cy="920" rx="50" ry="20"/><text class="du" x="1010" y="920">trip_id</text></g>
<g id="a46"><ellipse class="a" cx="1010" cy="990" rx="50" ry="20"/><text class="du" x="1010" y="990">customer_id</text></g>
<g id="a47"><ellipse class="a" cx="1332" cy="910" rx="45" ry="15"/><text class="s" x="1332" y="910">phone_number</text></g>
<g id="a48"><ellipse class="a" cx="1392" cy="920" rx="17" ry="10"/><text class="s" x="1392" y="920">age</text></g>
<g id="a49"><ellipse class="a" cx="1352" cy="930" rx="19" ry="10"/><text class="s" x="1352" y="930">name</text></g>
<g id="a50"><ellipse class="a" cx="1481" cy="875" rx="30" ry="10"/><text class="s" x="1481" y="875">password</text></g>
<g id="a51"><ellipse class="a" cx="1499" cy="910" rx="15" ry="10"/><text class="s" x="1499" y="910">score</text></g>
<g id="a52"><ellipse class="a" cx="1335" cy="997" rx="27" ry="15"/><text class="u t" x="1335" y="997">account_id</text></g>
<g id="a53"><ellipse class="ad" cx="1393" cy="1005" rx="25" ry="15"/><text class="s" x="1393" y="1005">paid</text></g>
<g id="a54"><ellipse class="a" cx="1404" cy="1030" rx="19" ry="10"/><text class="s" x="1404" y="1030">email</text></g>
<g id="a55"><ellipse class="ad" cx="1362" cy="1103" rx="35" ry="14"/><text class="s" x="1362" y="1103">scale</text></g>
<g id="a56"><ellipse class="a" cx="1350" cy="1164" rx="45" ry="20"/><text class="du" x="1350" y="1164">customer_id</text></g>
<g id="a57"><ellipse class="a" cx="1567" cy="955" rx="31" ry="10"/><text class="s" x="1567" y="955">password</text></g>
<g id="a58"><ellipse class="a" cx="1626" cy="955" rx="19" ry="10"/><text class="s" x="1626" y="955">name</text></g>
<g id="a59"><ellipse class="a" cx="1506" cy="1001" rx="19" ry="10"/><text class="s" x="1506" y="1001">email</text></g>
<g id="a60"><ellipse class="a" cx="1534" cy="1028" rx="16" ry="10"/><text class="s" x="1534" y="1028">age</text></g>
<g id="a61"><ellipse class="a" cx="1530" cy="1053" rx="45" ry="15"/><text class="s" x="1530" y="1053">phone_number</text></g>
<g id="a62"><ellipse class="a" cx="1620" cy="1035" rx="27" ry="15"/><text class="u t" x="1620" y="1035">account_id</text></g>
<g id="a63"><ellipse class="a" cx="1824" cy="870" rx="19" ry="10"/><text class="s" x="1824" y="870">email</text></g>
<g id="a64"><ellipse class="a" cx="1849" cy="890" rx="31" ry="10"/><text class="s" x="1849" y="890">password</text></g>
<g id="a65"><ellipse class="a" cx="1914" cy="905" rx="35" ry="15"/><text class="t" x="1914" y="905">supporter_id</text></g>
<g id="a66"><ellipse class="a" cx="1880" cy="930" rx="27" ry="15"/><text class="u t" x="1880" y="930">account_id</text></g>
<g id="a67"><ellipse class="a" cx="1750" cy="905" rx="45" ry="15"/><text class="s" x="1750" y="905">phone_number</text></g>
<g id="a68"><ellipse class="a" cx="1722" cy="950" rx="16" ry="10"/><text class="s" x="1722" y="950">age</text></g>
<g id="a69"><ellipse class="a" cx="1729" cy="981" rx="18" ry="10"/><text class="s" x="1729" y="981">name</text></g>
<g id="a70"><ellipse class="a" cx="1979" cy="880" rx="31" ry="10"/><text class="s" x="1979" y="880">password</text></g>
<g id="a71"><ellipse class="a" cx="2041" cy="880" rx="18" ry="10"/><text class="s" x="2041" y="880">name</text></g>
<g id="a72"><ellipse class="a" cx="2106" cy="875" rx="45" ry="15"/><text class="s" x="2106" y="875">phone_number</text></g>
<g id="a73"><ellipse class="a" cx="1959" cy="925" rx="19" ry="10"/><text class="s" x="1959" y="925">email</text></g>
<g id="a74"><ellipse class="a" cx="2118" cy="915" rx="27" ry="15"/><text class="u t" x="2118" y="915">account_id</text></g>
<g id="a75"><ellipse class="a" cx="2104" cy="935" rx="16" ry="10"/><text class="s" x="2104" y="935">age</text></g>
<g id="a76"><ellipse class="a" cx="1772" cy="1058" rx="18" ry="10"/><text class="s" x="1772" y="1058">email</text></g>
<g id="a77"><ellipse class="a" cx="1745" cy="1078" rx="18" ry="10"/><text class="s" x="1745" y="1078">name</text></g>
<g id="a78"><ellipse class="a" cx="1641" cy="1068" rx="16" ry="10"/><text class="s" x="1641" y="1068">age</text></g>
<g id="a79"><ellipse class="a" cx="1659" cy="1088" rx="31" ry="10"/><text class="s" x="1659" y="1088">password</text></g>
<g id="a80"><ellipse class="a" cx="1650" cy="1128" rx="45" ry="15"/><text class="s" x="1650" y="1128">phone_number</text></g>
<g id="a81"><ellipse class="a" cx="2040" cy="1005" rx="30" ry="15"/><text class="s" x="2040" y="1005">date</text></g>
<g id="a82"><ellipse class="a" cx="2045" cy="1073" rx="37" ry="15"/><text class="u s" x="2045" y="1073">SMS_id</text></g>
<g id="a83"><ellipse class="a" cx="1858" cy="1123" rx="30" ry="15"/><text class="s" x="1858" y="1123">type</text></g>
<g id="a84"><ellipse class="a" cx="1928" cy="1123" rx="30" ry="15"/><text class="s" x="1928" y="1123">content</text></g>
<g id="a85"><ellipse class="a" cx="1996" cy="1124" rx="30" ry="15"/><text class="s" x="1996" y="1124">time</text></g>
<g id="a86"><ellipse class="a" cx="2139" cy="1124" rx="31" ry="15"/><text class="s" x="2139" y="1124">duration</text></g>
<g id="a87"><ellipse class="a" cx="2225" cy="1124" rx="25" ry="15"/><text class="s" x="2225" y="1124">date</text></g>
<g id="a88"><ellipse class="a" cx="2310" cy="1124" rx="50" ry="20"/><text class="u" x="2310" y="1124">phone_call_id</text></g>
<g id="a89"><ellipse class="a" cx="2400" cy="1123" rx="30" ry="10"/><text class="s" x="2400" y="1123">time</text></g>
<g id="a90"><ellipse class="a" cx="608" cy="1372" rx="32" ry="14"/><text class="u s" x="608" y="1372">reserve_id</text></g>
<g id="a91"><ellipse class="a" cx="365" cy="1414" rx="40" ry="11"/><text class="s" x="365" y="1414">reserve_date</text></g>
<g id="a92"><ellipse class="a" cx="418" cy="1460" rx="50" ry="20"/><text x="418" y="1460">state</text></g>
<g id="a93"><ellipse class="a" cx="485" cy="1450" rx="20" ry="6"/><text class="t" x="485" y="1450">is_vip</text></g>
<g id="a94"><ellipse class="a" cx="608" cy="1455" rx="50" ry="20"/><text x="608" y="1455">start_date</text></g>
<g id="a95"><ellipse class="a" cx="710" cy="1450" rx="20" ry="6"/><text class="t" x="710" y="1450">is_vip</text></g>
<g id="a96"><ellipse class="a" cx="781" cy="1455" rx="50" ry="20"/><text x="781" y="1455">state</text></g>
<g id="a97"><ellipse class="a" cx="685" cy="1496" rx="50" ry="20"/><text x="685" y="1496">duration</text></g>
<g id="a98"><ellipse class="a" cx="798" cy="1382" rx="40" ry="11"/><text class="s" x="798" y="1382">reserve_date</text></g>
<g id="a99"><ellipse class="ad" cx="1510" cy="1391" rx="50" ry="20"/><text x="1510" y="1391">city</text></g>
<g id="a100"><ellipse class="a" cx="1562" cy="1435" rx="50" ry="20"/><text x="1562" y="1435">name</text></g>
<g id="a101"><ellipse class="a" cx="1555" cy="1480" rx="50" ry="20"/><text x="1555" y="1480">address</text></g>
<g id="a102"><ellipse class="a" cx="1308" cy="1461" rx="50" ry="20"/><text x="1308" y="1461">type</text></g>
<g id="a103"><ellipse class="a" cx="1218" cy="1490" rx="50" ry="20"/><text x="1218" y="1490">cancel_rules</text></g>
<g id="a104"><ellipse class="a" cx="1293" cy="1525" rx="45" ry="20"/><text class="u" x="1293" y="1525">hotel_id</text></g>
<g id="a105"><ellipse class="a" cx="1625" cy="1555" rx="50" ry="20"/><text x="1625" y="1555">phone_number</text></g>
<g id="a106"><ellipse class="a" cx="1328" cy="1565" rx="50" ry="20"/><ellipse class="ai" cx="1328" cy="1565" rx="46" ry="16"/><text x="1328" y="1565">comments</text></g>
<g id="a107"><ellipse class="a" cx="1478" cy="1623" rx="38" ry="17"/><ellipse class="ai" cx="1478" cy="1623" rx="34" ry="13"/><text x="1478" y="1623">amenities</text></g>
<g id="a108"><ellipse class="a" cx="1568" cy="1605" rx="50" ry="20"/><text x="1568" y="1605">score</text></g>
<g id="a109"><ellipse class="a" cx="1745" cy="1415" rx="50" ry="20"/><ellipse class="ai" cx="1745" cy="1415" rx="46" ry="16"/><text x="1745" y="1415">amenity</text></g>
<g id="a110"><ellipse class="a" cx="1855" cy="1415" rx="50" ry="20"/><text x="1855" y="1415">beds_number</text></g>
<g id="a111"><ellipse class="a" cx="1965" cy="1435" rx="50" ry="20"/><text x="1965" y="1435">size</text></g>
<g id="a112"><ellipse class="a" cx="1995" cy="1486" rx="50" ry="20"/><text x="1995" y="1486">capacity</text></g>
<g id="a113"><ellipse class="a" cx="1725" cy="1530" rx="50" ry="20"/><text x="1725" y="1530">price</text></g>
<g id="a114"><ellipse class="a" cx="1990" cy="1575" rx="50" ry="20"/><ellipse class="ai" cx="1990" cy="1575" rx="46" ry="16"/><text x="1990" y="1575">equipment</text></g>
<g id="a115"><ellipse class="a" cx="1788" cy="1615" rx="50" ry="20"/><text x="1788" y="1615">state</text></g>
<g id="a116"><ellipse class="a" cx="1933" cy="1630" rx="50" ry="20"/><text class="u" x="1933" y="1630">room_id</text></g>
<g id="a117"><ellipse class="a" cx="884" cy="1690" rx="20" ry="10"/><text class="s" x="884" y="1690">score</text></g>
<g id="a118"><ellipse class="a" cx="834" cy="1705" rx="30" ry="15"/><text class="u s" x="834" y="1705">survey_id</text></g>
<g id="a119"><ellipse class="a" cx="835" cy="1740" rx="29" ry="10"/><text class="s" x="835" y="1740">comment</text></g>
<g id="a120"><ellipse class="a" cx="1084" cy="1690" rx="29" ry="10"/><text class="s" x="1084" y="1690">comment</text></g>
<g id="a121"><ellipse class="a" cx="1138" cy="1755" rx="30" ry="15"/><text class="u s" x="1138" y="1755">survey_id</text></g>
<g id="a122"><ellipse class="a" cx="1058" cy="1770" rx="20" ry="10"/><text class="s" x="1058" y="1770">score</text></g>
<g id="a123"><ellipse class="a" cx="1642" cy="2236" rx="37" ry="15"/><text class="s" x="1642" y="2236">company_id</text></g>
<g id="a124"><ellipse class="ad" cx="1708" cy="2251" rx="20" ry="10"/><text class="s" x="1708" y="2251">score</text></g>
<g id="a125"><ellipse class="a" cx="1788" cy="2251" rx="21" ry="10"/><text class="s" x="1788" y="2251">name</text></g>
<g id="a126"><ellipse class="a" cx="1820" cy="2281" rx="50" ry="20"/><text x="1820" y="2281">state</text></g>
<g id="a127"><ellipse class="a" cx="1894" cy="2251" rx="21" ry="10"/><text class="s" x="1894" y="2251">name</text></g>
<g id="a128"><ellipse class="ad" cx="2060" cy="2210" rx="50" ry="20"/><text x="2060" y="2210">score</text></g>
<g id="a129"><ellipse class="a" cx="2070" cy="2270" rx="50" ry="20"/><text x="2070" y="2270">company_id</text></g>
<g id="a130"><ellipse class="a" cx="1971" cy="2291" rx="50" ry="20"/><text x="1971" y="2291">origin_country</text></g>
<g id="a131"><ellipse class="a" cx="1830" cy="2330" rx="50" ry="20"/><text class="u" x="1830" y="2330">seat_id</text></g>
<g id="a132"><ellipse class="a" cx="1820" cy="2380" rx="50" ry="20"/><text x="1820" y="2380">seat_number</text></g>
<g id="a133"><ellipse class="a" cx="1453" cy="2250" rx="35" ry="15"/><text class="s" x="1453" y="2250">cancel_rule</text></g>
<g id="a134"><ellipse class="a" cx="1238" cy="2285" rx="30" ry="15"/><text class="s" x="1238" y="2285">cancel_rule</text></g>
<g id="a135"><ellipse class="a" cx="1324" cy="2285" rx="36" ry="15"/><text class="u s" x="1324" y="2285">trip_number</text></g>
<g id="a136"><ellipse class="a" cx="1393" cy="2281" rx="19" ry="10"/><text class="s" x="1393" y="2281">price</text></g>
<g id="a137"><ellipse class="a" cx="1486" cy="2285" rx="48" ry="15"/><text class="s" x="1486" y="2285">destination_city</text></g>
<g id="a138"><ellipse class="a" cx="1520" cy="2324" rx="50" ry="20"/><text x="1520" y="2324">bus_type</text></g>
<g id="a139"><ellipse class="a" cx="1323" cy="2345" rx="32" ry="10"/><text class="s" x="1323" y="2345">origin_city</text></g>
<g id="a140"><ellipse class="a" cx="1525" cy="2361" rx="30" ry="10"/><text class="s" x="1525" y="2361">end_time</text></g>
<g id="a141"><ellipse class="a" cx="1585" cy="2380" rx="20" ry="10"/><text class="s" x="1585" y="2380">end</text></g>
<g id="a142"><ellipse class="a" cx="1525" cy="2395" rx="30" ry="10"/><text class="s" x="1525" y="2395">end_date</text></g>
<g id="a143"><ellipse class="a" cx="1388" cy="2415" rx="19" ry="10"/><text class="s" x="1388" y="2415">start</text></g>
<g id="a144"><ellipse class="a" cx="1412" cy="2425" rx="26" ry="10"/><text class="s" x="1412" y="2425">capacity</text></g>
<g id="a145"><ellipse class="a" cx="1160" cy="2365" rx="32" ry="10"/><text class="s" x="1160" y="2365">origin_city</text></g>
<g id="a146"><ellipse class="a" cx="1303" cy="2375" rx="19" ry="10"/><text class="s" x="1303" y="2375">end</text></g>
<g id="a147"><ellipse class="a" cx="1163" cy="2405" rx="20" ry="10"/><text class="s" x="1163" y="2405">price</text></g>
<g id="a148"><ellipse class="a" cx="1341" cy="2403" rx="20" ry="12"/><text class="s" x="1341" y="2403">start</text></g>
<g id="a149"><ellipse class="a" cx="1163" cy="2438" rx="21" ry="10"/><text class="s" x="1163" y="2438">capacity</text></g>
<g id="a151"><ellipse class="a" cx="1350" cy="2450" rx="50" ry="20"/><text x="1350" y="2450">max_weight</text></g>
<g id="a150"><ellipse class="a" cx="1319" cy="2430" rx="36" ry="15"/><text class="u s" x="1319" y="2430">trip_number</text></g>
<g id="a152"><ellipse class="a" cx="1190" cy="2470" rx="45" ry="10"/><text class="s" x="1190" y="2470">air_trip_name</text></g>
<g id="a153"><ellipse class="a" cx="1193" cy="2505" rx="44" ry="15"/><text class="s" x="1193" y="2505">destination_city</text></g>
<g id="a154"><ellipse class="a" cx="1368" cy="2500" rx="50" ry="20"/><text x="1368" y="2500">seat_type</text></g>
<g id="a155"><ellipse class="a" cx="487" cy="2306" rx="25" ry="12"/><text class="s" x="487" y="2306">location</text></g>
<g id="a156"><ellipse class="a" cx="508" cy="2330" rx="18" ry="10"/><text class="s" x="508" y="2330">name</text></g>
<g id="a157"><ellipse class="ad" cx="455" cy="2338" rx="24" ry="8"/><text class="s" x="455" y="2338">country</text></g>
<g id="a158"><ellipse class="a" cx="460" cy="2365" rx="34" ry="12"/><text class="u s" x="460" y="2365">terminal_id</text></g>
<g id="a159"><ellipse class="a" cx="511" cy="2405" rx="25" ry="12"/><text class="s" x="511" y="2405">location</text></g>
<g id="a160"><ellipse class="a" cx="460" cy="2424" rx="34" ry="12"/><text class="u s" x="460" y="2424">terminal_id</text></g>
<g id="a161"><ellipse class="a" cx="513" cy="2435" rx="18" ry="10"/><text class="s" x="513" y="2435">name</text></g>
<g id="a162"><ellipse class="ad" cx="565" cy="2478" rx="24" ry="8"/><text class="s" x="565" y="2478">country</text></g>
<g id="a163"><ellipse class="ad" cx="167" cy="2425" rx="24" ry="8"/><text class="s" x="167" y="2425">country</text></g>
<g id="a164"><ellipse class="a" cx="156" cy="2458" rx="25" ry="12"/><text class="s" x="156" y="2458">location</text></g>
<g id="a165"><ellipse class="a" cx="177" cy="2495" rx="34" ry="12"/><text class="u s" x="177" y="2495">terminal_id</text></g>
<g id="a166"><ellipse class="a" cx="238" cy="2495" rx="18" ry="11"/><text class="s" x="238" y="2495">name</text></g>
<g id="a167"><ellipse class="a" cx="398" cy="2513" rx="29" ry="13"/><text class="s" x="398" y="2513">train_type</text></g>
<g id="a168"><ellipse class="a" cx="366" cy="2725" rx="49" ry="15"/><text class="s" x="366" y="2725">destination_city</text></g>
<g id="a169"><ellipse class="a" cx="418" cy="2758" rx="20" ry="12"/><text class="s" x="418" y="2758">start</text></g>
<g id="a170"><ellipse class="a" cx="470" cy="2758" rx="20" ry="10"/><text class="s" x="470" y="2758">price</text></g>
<g id="a171"><ellipse class="a" cx="486" cy="2786" rx="36" ry="15"/><text class="u s" x="486" y="2786">trip_number</text></g>
<g id="a172"><ellipse class="a" cx="555" cy="2791" rx="33" ry="15"/><text class="s" x="555" y="2791">cancel_rule</text></g>
<g id="a173"><ellipse class="a" cx="628" cy="2800" rx="32" ry="10"/><text class="s" x="628" y="2800">origin_city</text></g>
<g id="a174"><ellipse class="a" cx="601" cy="2756" rx="20" ry="10"/><text class="s" x="601" y="2756">end</text></g>
<g id="a175"><ellipse class="a" cx="644" cy="2738" rx="26" ry="10"/><text class="s" x="644" y="2738">capacity</text></g>
<g id="a176"><ellipse class="a" cx="1176" cy="2620" rx="26" ry="10"/><text class="s" x="1176" y="2620">capacity</text></g>
<g id="a177"><ellipse class="a" cx="1108" cy="2630" rx="20" ry="10"/><text class="s" x="1108" y="2630">price</text></g>
<g id="a179"><ellipse class="a" cx="1187" cy="2650" rx="49" ry="15"/><text class="s" x="1187" y="2650">destination_city</text></g>
<g id="a178"><ellipse class="a" cx="1123" cy="2657" rx="20" ry="12"/><text class="s" x="1123" y="2657">start</text></g>
<g id="a180"><ellipse class="a" cx="1201" cy="2680" rx="32" ry="10"/><text class="s" x="1201" y="2680">origin_city</text></g>
<g id="a181"><ellipse class="a" cx="1010" cy="2685" rx="36" ry="15"/><text class="u s" x="1010" y="2685">trip_number</text></g>
<g id="a182"><ellipse class="a" cx="1063" cy="2700" rx="20" ry="10"/><text class="s" x="1063" y="2700">end</text></g>
<g id="a183"><ellipse class="a" cx="1037" cy="2743" rx="33" ry="15"/><text class="s" x="1037" y="2743">cancel_rule</text></g>
<g id="a184"><ellipse class="a" cx="970" cy="2840" rx="50" ry="20"/><text class="u s" x="970" y="2840">vehicle_name</text></g>
<g id="a185"><ellipse class="a" cx="958" cy="2890" rx="50" ry="20"/><text x="958" y="2890">koope_capacity</text></g>
<g id="a186"><ellipse class="a" cx="835" cy="2910" rx="50" ry="20"/><text class="s" x="835" y="2910">max_capacity</text></g>
<g id="a187"><ellipse class="a" cx="1077" cy="2861" rx="50" ry="20"/><text class="u s" x="1077" y="2861">vehicle_name</text></g>
<g id="a188"><ellipse class="a" cx="1168" cy="2850" rx="50" ry="20"/><text class="s" x="1168" y="2850">max_capacity</text></g>
<g id="a189"><ellipse class="a" cx="1268" cy="2850" rx="50" ry="20"/><text class="u s" x="1268" y="2850">vehicle_name</text></g>
<g id="a190"><ellipse class="a" cx="1383" cy="2850" rx="50" ry="20"/><text class="s" x="1383" y="2850">max_capacity</text></g>
<g id="a191"><ellipse class="a" cx="330" cy="2990" rx="50" ry="20"/><text class="s" x="330" y="2990">max_capacity</text></g>
<g id="a192"><ellipse class="a" cx="410" cy="3020" rx="50" ry="20"/><text class="u s" x="410" y="3020">vehicle_name</text></g>
</g>
</svg>
